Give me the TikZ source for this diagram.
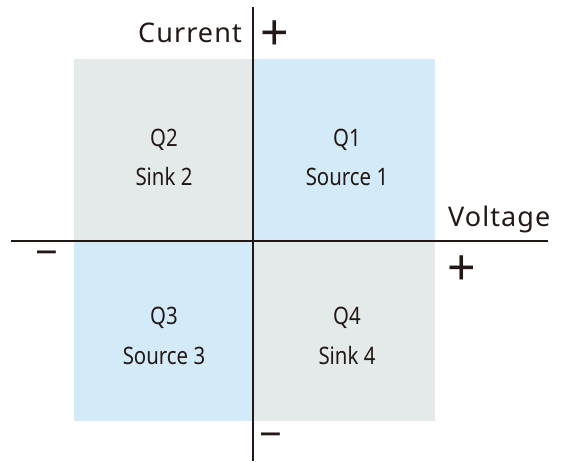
\documentclass[tikz,border=0pt]{standalone}
\usepackage{fontspec}
\setmainfont{Noto Sans}
\newfontfamily\qfont[FakeStretch=0.85]{Noto Sans}
\newfontfamily\axfont[LetterSpace=4]{Noto Sans}
\definecolor{ink}{RGB}{35,24,21}
\definecolor{qgrey}{RGB}{228,234,234}
\definecolor{qblue}{RGB}{211,234,248}
\begin{document}
\begin{tikzpicture}[x=1pt,y=-1pt,
  axis/.style={draw=ink,line width=2.6pt},
  qlabel/.style={font=\qfont\fontsize{24}{28}\selectfont,text=ink,anchor=base,inner sep=0pt},
  axlabel/.style={font=\axfont\fontsize{27}{32}\selectfont,text=ink,inner sep=0pt},
  signp/.style={font=\fontsize{50}{54}\selectfont,text=ink,inner sep=0pt,anchor=center},
  signm/.style={font=\fontsize{40}{44}\selectfont,text=ink,inner sep=0pt,anchor=center}]
\useasboundingbox[fill=white] (0,0) rectangle (563,462);
% quadrant backgrounds
\fill[qgrey] (74,59) rectangle (253,241);
\fill[qblue] (253,59) rectangle (435,241);
\fill[qblue] (74,241) rectangle (253,421);
\fill[qgrey] (253,241) rectangle (435,421);
% axes
\coordinate (xl) at (11,241);
\coordinate (xr) at (548,241);
\coordinate (yt) at (253,7);
\coordinate (yb) at (253,461);
\draw[axis] (xl) -- (xr);
\draw[axis] (yt) -- (yb);
% axis labels
\node[axlabel,anchor=base east] (cur) at (242,43) {Current};
\node[axlabel,anchor=base west] (volt) at (448,227) {Voltage};
\node[signp] (py) at (274.5,35.5) {+};
\node[signp] (px) at (461.5,270.5) {+};
\node[signm] (mx) at (47,259) {−};
\node[signm] (my) at (271,441) {−};
% quadrant labels
\node[qlabel] (q1) at (347,147) {Q1};
\node[qlabel] (s1) at (347,186) {Source 1};
\node[qlabel] (q2) at (164,147) {Q2};
\node[qlabel] (s2) at (164,186) {Sink 2};
\node[qlabel] (q3) at (164,325) {Q3};
\node[qlabel] (s3) at (164,365) {Source 3};
\node[qlabel] (q4) at (347,325) {Q4};
\node[qlabel] (s4) at (347,365) {Sink 4};
\end{tikzpicture}
\end{document}
